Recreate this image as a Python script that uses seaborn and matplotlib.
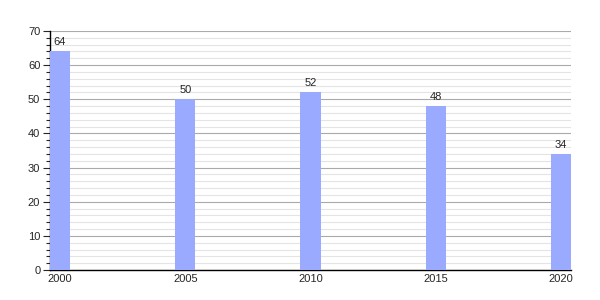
import matplotlib
matplotlib.use("Agg")
import matplotlib.pyplot as plt
import seaborn as sns
import pandas as pd
from matplotlib.ticker import MultipleLocator

years = ["2000", "2005", "2010", "2015", "2020"]
values = [64, 50, 52, 48, 34]

sns.set_style("white")
plt.rcParams['font.family'] = ['Liberation Sans', 'DejaVu Sans']

df = pd.DataFrame({"year": years, "value": values})

fig = plt.figure(figsize=(6, 3), dpi=100)
ax = fig.add_axes([50/600, 1 - 270/300, 521/600, 239/300])

sns.barplot(data=df, x="year", y="value", color="#99aaff", saturation=1,
            width=0.16, ax=ax, zorder=3)
for p in ax.patches:
    p.set_edgecolor("none")

ax.set_xlim(-0.08, 4.08)
ax.set_ylim(0, 70)
ax.yaxis.set_major_locator(MultipleLocator(10))
ax.yaxis.set_minor_locator(MultipleLocator(2))
ax.grid(axis="y", which="major", color="#aaaaaa", linewidth=0.8, zorder=0)
ax.grid(axis="y", which="minor", color="#e4e4e4", linewidth=0.8, zorder=0)
ax.set_axisbelow(True)

for s in ["top", "right"]:
    ax.spines[s].set_visible(False)
for s in ["left", "bottom"]:
    ax.spines[s].set_color("black")
    ax.spines[s].set_linewidth(1.0)

ax.tick_params(axis="y", which="major", length=5, width=0.8, labelsize=8, direction="out", left=True, pad=2)
ax.tick_params(axis="y", which="minor", length=3, width=0.8, direction="out", left=True)
ax.tick_params(axis="x", length=0, labelsize=8, pad=3)
ax.set_xlabel("")
ax.set_ylabel("")

for c in ax.containers:
    ax.bar_label(c, labels=[str(v) for v in values], padding=3, fontsize=8)

fig.savefig("out.png", dpi=100)
